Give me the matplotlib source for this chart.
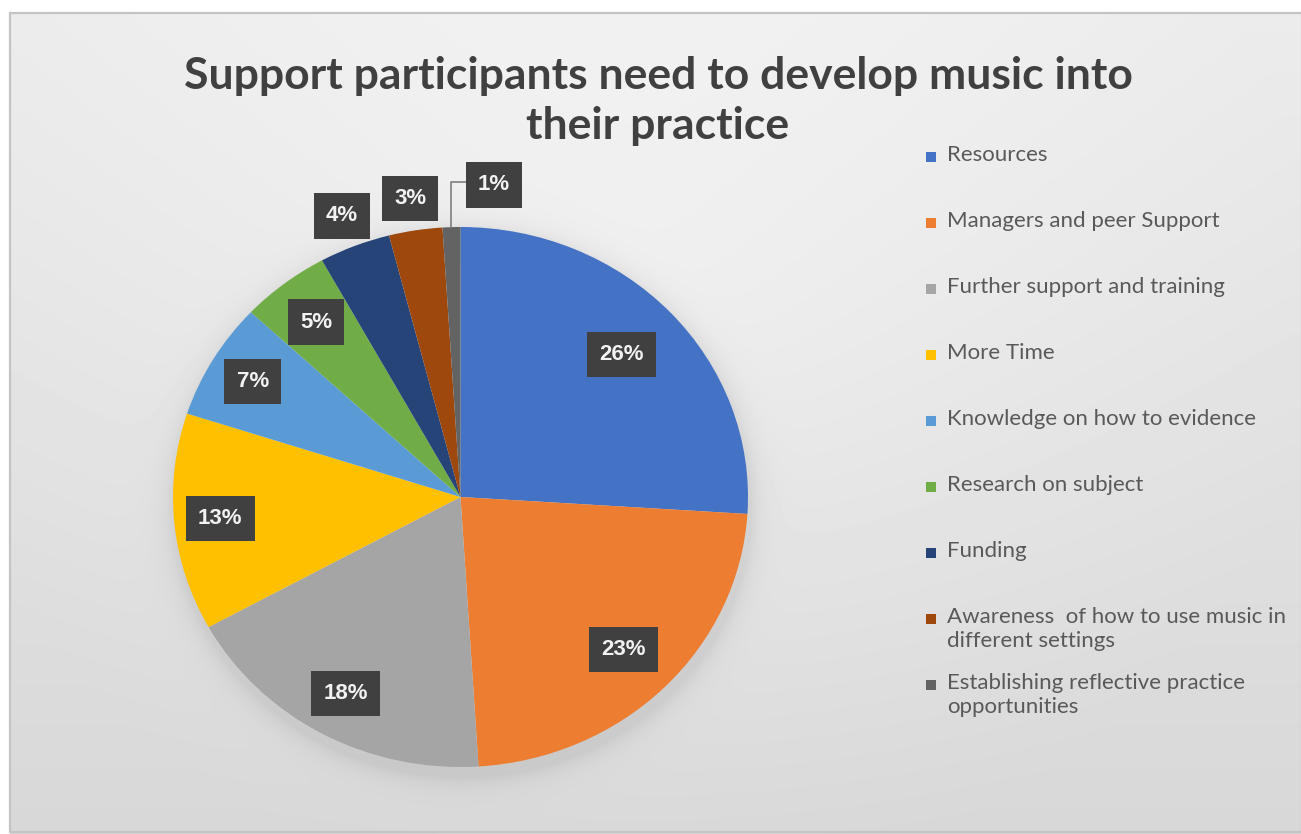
import numpy as np
import matplotlib.pyplot as plt
from matplotlib.patches import Rectangle

# Survey results: support needed to develop music into practice
categories = [
    "Resources",
    "Managers and peer Support",
    "Further support and training",
    "More Time",
    "Knowledge on how to evidence",
    "Research on subject",
    "Funding",
    "Awareness  of how to use music in\ndifferent settings",
    "Establishing reflective practice\nopportunities",
]
shares = [26, 23, 18, 13, 7, 5, 4, 3, 1]
colors = ["#4472C4", "#ED7D31", "#A5A5A5", "#FFC000", "#5B9BD5",
          "#70AD47", "#264478", "#9E480E", "#636363"]
title = "Support participants need to develop music into\ntheir practice"

# radial distance of each data label (fraction of the radius)
label_radius = [0.77, 0.80, 0.83, 0.84, 0.84, 0.82, 1.12, 1.12, 1.16]

W, H = 1301, 834
fig = plt.figure(figsize=(W / 100, H / 100), dpi=100)

# ---- background: soft grey gradient inside a thin frame ----
bg = fig.add_axes([0, 0, 1, 1])
bg.set_xlim(0, W)
bg.set_ylim(H, 0)
bg.axis("off")
yy, xx = np.mgrid[0:H, 0:W].astype(float)
r = np.clip(np.sqrt(((xx - 620) / 700) ** 2 + ((yy - 300) / 600) ** 2), 0, 1)
img = 0.965 - 0.08 * (yy / H) - 0.04 * r
# soft shadow around the pie
ed = np.sqrt(((xx - 462) / 289) ** 2 + ((yy - 504) / 273) ** 2)
img -= 0.07 * np.exp(-np.clip(ed - 1.0, 0, None) / 0.04) * (ed > 0.9)
img[:13, :] = 1.0
img[:, :10] = 1.0
bg.imshow(img, extent=(0, W, H, 0), cmap="gray", vmin=0, vmax=1,
          aspect="auto", interpolation="bilinear")
bg.add_patch(Rectangle((10, 13), W - 9, H - 15, fill=False,
                       ec="#c4c4c4", lw=1.6))

# ---- title ----
bg.text(658, 101, title, ha="center", va="center", fontsize=32,
        fontweight="bold", family="Lato", color="#404040", linespacing=1.3)

# ---- pie ----
ax = fig.add_axes([173 / W, (H - 767) / H, 575 / W, 540 / H])
wedges, _ = ax.pie(shares, colors=colors, startangle=90, counterclock=False,
                   wedgeprops=dict(linewidth=0))
ax.set_xlim(-1, 1)
ax.set_ylim(-1, 1)
ax.set_aspect("auto")
ax.axis("off")

for i, (w, v) in enumerate(zip(wedges, shares)):
    theta = np.deg2rad((w.theta1 + w.theta2) / 2)
    rr = label_radius[i]
    x, y = rr * np.cos(theta), rr * np.sin(theta)
    if i == len(shares) - 1:
        # small slice: label pushed aside with a leader line
        x0, y0 = np.cos(theta), np.sin(theta)
        x, y = 0.117, 1.156
        ax.plot([x0, x0, 0.03], [y0, 1.167, 1.167], color="#7f7f7f",
                lw=1.2, clip_on=False)
    ax.text(x, y, f"{v}%", ha="center", va="center", fontsize=16,
            fontweight="bold", family="Liberation Sans", color="#f2f2f2",
            bbox=dict(boxstyle="square,pad=0.55", fc="#404040", ec="none"),
            clip_on=False)

# ---- legend ----
for i, (lab, c) in enumerate(zip(categories, colors)):
    yc = 158 + i * 66
    bg.add_patch(Rectangle((926, yc - 6), 10, 10, fc=c, ec="none"))
    bg.text(947, yc - 13, lab, ha="left", va="top", fontsize=16,
            family="Lato", color="#595959", linespacing=1.27)

fig.savefig("out.png", dpi=100)
